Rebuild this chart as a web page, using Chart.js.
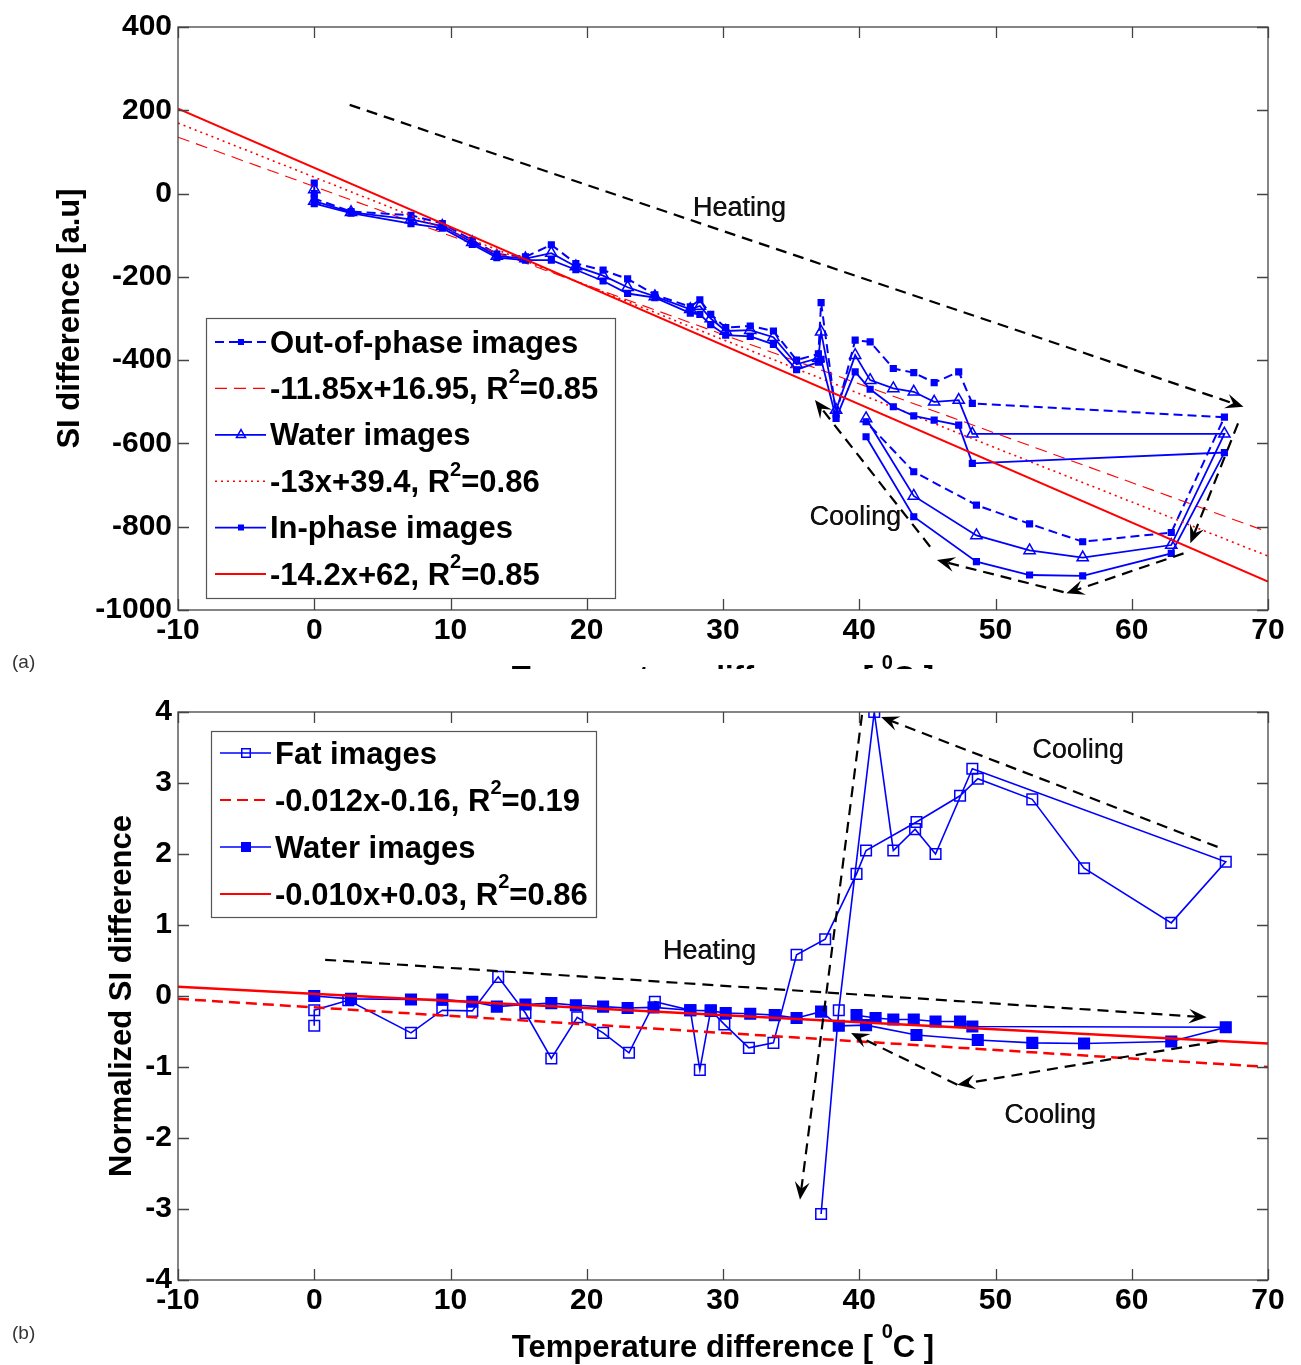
<!DOCTYPE html>
<html>
<head>
<meta charset="utf-8">
<script src="https://cdn.jsdelivr.net/npm/chart.js@4.4.1/dist/chart.umd.min.js"></script>
<style>
  body { margin: 0; background: #fff; }
  #wrap { position: relative; width: 1301px; height: 1365px; overflow: hidden; }
  canvas { position: absolute; left: 0; }
  #chartA { top: 0; }
  #chartB { top: 670px; }
  .tag { position: absolute; left: 12px; font: 19px "Liberation Sans", Arial, sans-serif; color: #333; }
</style>
</head>
<body>
<div id="wrap">
  <canvas id="chartA" width="1301" height="669"></canvas>
  <canvas id="chartB" width="1301" height="695"></canvas>
  <div class="tag" style="top:651px">(a)</div>
  <div class="tag" style="top:1322px">(b)</div>
</div>
<script>
// ---- panel (a): SI difference [a.u] ----
const tempA = [0, 0, 2.7, 7.1, 9.4, 11.6, 13.4, 15.5, 17.4, 19.2, 21.2, 23.0, 25.0, 27.6, 28.3,
  29.1, 30.2, 32.0, 33.7, 35.4, 37.0, 37.2, 38.3, 39.7, 40.8, 42.5, 44.0, 45.5, 47.3, 48.3,
  66.8, 62.9, 56.4, 52.5, 48.6, 44.0, 40.5];
const outPhase = [25, -12, -43, -52, -72, -112, -145, -152, -123, -168, -184, -205, -243, -272, -255,
  -290, -322, -318, -330, -400, -385, -262, -530, -352, -356, -420, -430, -454, -428, -504,
  -537, -814, -836, -793, -748, -668, -548];
const waterA = [10, -18, -45, -62, -78, -117, -150, -156, -143, -175, -197, -225, -247, -278, -270,
  -300, -330, -328, -345, -410, -395, -332, -520, -388, -448, -468, -476, -500, -496, -577,
  -577, -844, -874, -857, -821, -726, -540];
const inPhase = [0, -24, -47, -72, -83, -122, -154, -160, -160, -183, -210, -240, -250, -287, -290,
  -315, -340, -343, -362, -423, -405, -398, -540, -428, -470, -512, -534, -544, -556, -648,
  -622, -864, -918, -916, -884, -776, -584];
const fitLabelsA = ['-11.85x+16.95, R²=0.85', '-13x+39.4, R²=0.86', '-14.2x+62, R²=0.85'];
const fitSlopeA = [-11.85, -13, -14.2];
const fitIcptA = [16.95, 39.4, 62];
const ticksYA = [-1000, -800, -600, -400, -200, 0, 200, 400];

// ---- panel (b): normalized SI difference ----
const tempFat = [0, 0, 2.5, 7.1, 9.4, 11.6, 13.5, 15.5, 17.4, 19.3, 21.2, 23.1, 25.0, 27.6, 28.3,
  29.1, 30.1, 31.9, 33.7, 35.4, 37.5, 39.8, 40.5, 44.2, 47.4, 48.7, 52.7, 56.5, 62.9, 66.9,
  48.3, 45.6, 44.1, 42.5, 41.1, 38.5, 37.2];
const fatSI = [-0.42, -0.2, -0.06, -0.52, -0.2, -0.21, 0.27, -0.24, -0.88, -0.3, -0.52, -0.8, -0.08, -0.2, -1.04,
  -0.2, -0.4, -0.73, -0.66, 0.58, 0.8, 1.72, 2.05, 2.45, 2.82, 3.06, 2.77, 1.8, 1.03, 1.89,
  3.2, 2.0, 2.35, 2.05, 4.0, -0.2, -3.07];
const tempWater = [0, 2.7, 7.1, 9.4, 11.6, 13.4, 15.5, 17.4, 19.2, 21.2, 23.0, 24.9, 27.6, 29.1, 30.2,
  32.0, 33.8, 35.4, 37.2, 38.5, 40.5, 44.2, 48.7, 52.7, 56.5, 62.9, 66.9,
  48.3, 47.4, 45.6, 44.0, 42.5, 41.2, 39.8];
const waterSI = [0.0, -0.04, -0.05, -0.05, -0.08, -0.15, -0.12, -0.1, -0.13, -0.15, -0.17, -0.16, -0.2, -0.21, -0.24,
  -0.25, -0.27, -0.31, -0.22, -0.42, -0.41, -0.55, -0.62, -0.66, -0.67, -0.64, -0.44,
  -0.43, -0.36, -0.36, -0.33, -0.33, -0.31, -0.27];
const fitLabelsB = ['-0.012x-0.16, R²=0.19', '-0.010x+0.03, R²=0.86'];
const fitSlopeB = [-0.012, -0.010];
const fitIcptB = [-0.16, 0.03];

// heating / cooling arrows, in data units [x0, y0, x1, y1]
const arrowsA = [[2.6, 213, 68.2, -512], [67.8, -552, 64.3, -840], [63.8, -864, 55.2, -960],
  [55.0, -957, 45.7, -880], [45.2, -848, 36.75, -496]];
const notesA = [['Heating', 31.2, -35], ['Cooling', 39.7, -779]];
const arrowsB = [[0.8, 0.51, 65.5, -0.30], [40.2, 3.96, 35.65, -2.87], [66.3, 2.1, 41.6, 3.93],
  [66.3, -0.64, 47.2, -1.25], [47.2, -1.25, 39.4, -0.52]];
const notesB = [['Heating', 29, 0.62], ['Cooling', 56.05, 3.46], ['Cooling', 54, -1.68]];

const FONT = '"Liberation Sans", Arial, sans-serif';
const BLUE = '#0000ff';
const RED = '#ff0000';

const pts = (xs, ys) => xs.map((x, i) => ({x: x, y: ys[i]}));
const fitLine = (m, b) => [{x: -10, y: m * -10 + b}, {x: 70, y: m * 70 + b}];

// text with a raised '2' / '0' for R² and ⁰C
function supText(ctx, str, x, y, size, align, lift) {
  const parts = [];
  let buf = '';
  for (const ch of str) {
    if (ch === '²' || ch === '⁰') {
      if (buf) parts.push([buf, false]);
      parts.push([ch === '²' ? '2' : '0', true]);
      buf = '';
    } else buf += ch;
  }
  if (buf) parts.push([buf, false]);
  const big = 'bold ' + size + 'px ' + FONT;
  const small = 'bold ' + Math.round(size * 0.66) + 'px ' + FONT;
  let total = 0;
  parts.forEach(p => { ctx.font = p[1] ? small : big; total += ctx.measureText(p[0]).width; });
  let cx = align === 'center' ? x - total / 2 : x;
  ctx.textAlign = 'left';
  parts.forEach(p => {
    ctx.font = p[1] ? small : big;
    ctx.fillText(p[0], cx, p[1] ? y - size * (lift || 0.42) : y);
    cx += ctx.measureText(p[0]).width;
  });
}

function drawArrow(ctx, x0, y0, x1, y1) {
  const len = Math.hypot(x1 - x0, y1 - y0);
  const ux = (x1 - x0) / len, uy = (y1 - y0) / len;
  const nx = -uy, ny = ux;
  ctx.save();
  ctx.strokeStyle = '#000';
  ctx.fillStyle = '#000';
  ctx.lineWidth = 2.2;
  ctx.setLineDash([11, 7]);
  ctx.beginPath();
  ctx.moveTo(x0, y0);
  ctx.lineTo(x1 - ux * 8, y1 - uy * 8);
  ctx.stroke();
  ctx.setLineDash([]);
  ctx.beginPath();
  ctx.moveTo(x1, y1);
  ctx.lineTo(x1 - ux * 18 + nx * 7.5, y1 - uy * 18 + ny * 7.5);
  ctx.lineTo(x1 - ux * 11, y1 - uy * 11);
  ctx.lineTo(x1 - ux * 18 - nx * 7.5, y1 - uy * 18 - ny * 7.5);
  ctx.closePath();
  ctx.fill();
  ctx.restore();
}

// MATLAB-like box with inward ticks, titles, legend box and annotations
const figureDecor = {
  id: 'figureDecor',
  afterDatasetsDraw(chart, args, opts) {
    const {ctx, scales: {x, y}} = chart;
    ctx.save();
    opts.arrows.forEach(r => drawArrow(ctx, x.getPixelForValue(r[0]), y.getPixelForValue(r[1]),
      x.getPixelForValue(r[2]), y.getPixelForValue(r[3])));
    ctx.fillStyle = '#111';
    ctx.font = '27px ' + FONT;
    ctx.textAlign = 'center';
    ctx.textBaseline = 'middle';
    opts.notes.forEach(n => {
      const px = x.getPixelForValue(n[1]), py = y.getPixelForValue(n[2]);
      ctx.fillText(n[0], px, py);
      ctx.fillText(n[0], px + 0.4, py);
    });
    ctx.restore();
  },
  afterDraw(chart, args, opts) {
    const {ctx, chartArea: a, scales: {x, y}} = chart;
    ctx.save();
    // frame and ticks
    ctx.strokeStyle = '#444';
    ctx.lineWidth = 1.3;
    ctx.strokeRect(a.left, a.top, a.right - a.left, a.bottom - a.top);
    ctx.beginPath();
    x.ticks.forEach(t => {
      const px = Math.round(x.getPixelForValue(t.value)) + 0.5;
      ctx.moveTo(px, a.bottom); ctx.lineTo(px, a.bottom - 11);
      ctx.moveTo(px, a.top); ctx.lineTo(px, a.top + 11);
    });
    y.ticks.forEach(t => {
      const py = Math.round(y.getPixelForValue(t.value)) + 0.5;
      ctx.moveTo(a.left, py); ctx.lineTo(a.left + 11, py);
      ctx.moveTo(a.right, py); ctx.lineTo(a.right - 11, py);
    });
    ctx.stroke();

    // axis titles
    ctx.fillStyle = '#000';
    ctx.textBaseline = 'alphabetic';
    supText(ctx, opts.xTitle, (a.left + a.right) / 2, opts.xTitleY, 31, 'center', 0.6);
    ctx.save();
    ctx.translate(opts.yTitleX, (a.top + a.bottom) / 2);
    ctx.rotate(-Math.PI / 2);
    ctx.textBaseline = 'middle';
    supText(ctx, opts.yTitle, 0, 0, 31, 'center');
    ctx.restore();

    // legend
    const L = opts.legend;
    ctx.fillStyle = '#fff';
    ctx.fillRect(L.x, L.y, L.w, L.h);
    ctx.strokeStyle = '#555';
    ctx.lineWidth = 1.2;
    ctx.strokeRect(L.x + 0.5, L.y + 0.5, L.w, L.h);
    chart.data.datasets.forEach((d, i) => {
      const cy = L.y + L.first + i * L.step;
      ctx.save();
      ctx.strokeStyle = d.borderColor;
      ctx.lineWidth = Math.min(d.borderWidth, 2);
      ctx.setLineDash(d.borderDash || []);
      ctx.beginPath();
      ctx.moveTo(L.x + 9, cy);
      ctx.lineTo(L.x + 60, cy);
      ctx.stroke();
      ctx.setLineDash([]);
      if (d.pointRadius > 0) {
        ctx.fillStyle = d.pointBackgroundColor;
        ctx.strokeStyle = d.pointBorderColor;
        ctx.lineWidth = d.pointBorderWidth;
        Chart.helpers.drawPoint(ctx, {pointStyle: d.pointStyle, radius: d.pointRadius * 0.8,
          rotation: 0, borderWidth: d.pointBorderWidth}, L.x + 35, cy);
      }
      ctx.restore();
      ctx.fillStyle = '#000';
      ctx.textBaseline = 'middle';
      supText(ctx, d.label, L.x + 64, cy + 2, 31, 'left');
    });
    ctx.restore();
  }
};

function buildChart(id, datasets, yMin, yMax, yStep, padTop, decor) {
  const canvas = document.getElementById(id);
  datasets.forEach((d, i) => { d.order = datasets.length - i; });
  return new Chart(canvas, {
    type: 'scatter',
    data: {datasets: datasets},
    options: {
      responsive: false,
      animation: false,
      devicePixelRatio: 1,
      layout: {padding: {top: padTop, right: 33, left: 0, bottom: 0}},
      plugins: {legend: {display: false}, tooltip: {enabled: false}, figureDecor: decor},
      scales: {
        x: {
          type: 'linear', min: -10, max: 70,
          ticks: {stepSize: 10, padding: 3, color: '#000', font: {family: FONT, size: 30, weight: 'bold'},
            callback: v => String(v)},
          grid: {display: false, drawTicks: false},
          border: {display: false},
          afterFit: s => { s.height = canvas.height - 610; }
        },
        y: {
          min: yMin, max: yMax,
          ticks: {stepSize: yStep, padding: 6, color: '#000', font: {family: FONT, size: 30, weight: 'bold'},
            callback: v => String(v)},
          grid: {display: false, drawTicks: false},
          border: {display: false},
          afterFit: s => { s.width = 178; }
        }
      }
    },
    plugins: [figureDecor]
  });
}

const blueLine = (label, data, style, radius, filled, dash, width) => ({
  label: label, data: data, showLine: true, fill: false, tension: 0,
  borderColor: BLUE, borderWidth: width, borderDash: dash,
  pointStyle: style, pointRadius: radius, pointBorderWidth: 1.5,
  pointBorderColor: BLUE, pointBackgroundColor: filled ? BLUE : 'rgba(255,255,255,0)'
});
const redLine = (label, data, width, dash) => ({
  label: label, data: data, showLine: true, fill: false,
  borderColor: RED, borderWidth: width, borderDash: dash, pointRadius: 0
});

buildChart('chartA', [
  blueLine('Out-of-phase images', pts(tempA, outPhase), 'rect', 4, true, [9, 5], 2),
  redLine(fitLabelsA[0], fitLine(fitSlopeA[0], fitIcptA[0]), 1.1, [12, 7]),
  blueLine('Water images', pts(tempA, waterA), 'triangle', 6.5, false, [], 1.8),
  redLine(fitLabelsA[1], fitLine(fitSlopeA[1], fitIcptA[1]), 1.6, [2, 4]),
  blueLine('In-phase images', pts(tempA, inPhase), 'rect', 4, true, [], 1.8),
  redLine(fitLabelsA[2], fitLine(fitSlopeA[2], fitIcptA[2]), 2, [])
], ticksYA[0], ticksYA[ticksYA.length - 1], 200, 27, {
  arrows: arrowsA, notes: notesA,
  xTitle: 'Temperature difference [ ⁰C ]', xTitleY: 688,
  yTitle: 'SI difference [a.u]', yTitleX: 70,
  legend: {x: 206, y: 318, w: 409, h: 280, first: 24, step: 46.4}
});

buildChart('chartB', [
  blueLine('Fat images', pts(tempFat, fatSI), 'rect', 7.5, false, [], 1.6),
  redLine(fitLabelsB[0], fitLine(fitSlopeB[0], fitIcptB[0]), 2.5, [11, 6]),
  blueLine('Water images', pts(tempWater, waterSI), 'rect', 7.5, true, [], 1.6),
  redLine(fitLabelsB[1], fitLine(fitSlopeB[1], fitIcptB[1]), 2.6, [])
], -4, 4, 1, 42, {
  arrows: arrowsB, notes: notesB,
  xTitle: 'Temperature difference [ ⁰C ]', xTitleY: 687,
  yTitle: 'Normalized SI difference', yTitleX: 122,
  legend: {x: 211, y: 61, w: 385, h: 186, first: 22, step: 47}
});
</script>
</body>
</html>
